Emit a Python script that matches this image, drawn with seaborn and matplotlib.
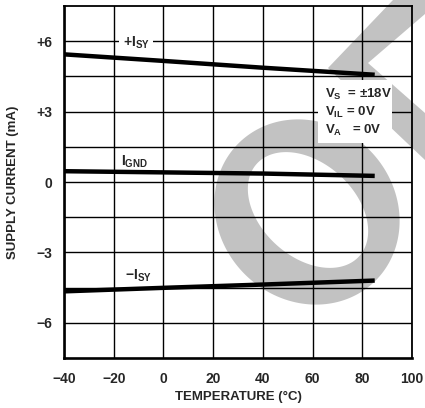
import numpy as np
import pandas as pd
import matplotlib
matplotlib.use('Agg')
import matplotlib.pyplot as plt
import seaborn as sns
from matplotlib.patches import PathPatch, Polygon, Rectangle
from matplotlib.path import Path
from matplotlib.transforms import IdentityTransform

# ---- data ----
temperature = [-40, 0, 40, 85]
i_sy_pos = [5.44, 5.16, 4.87, 4.57]
i_gnd = [0.46, 0.41, 0.36, 0.26]
i_sy_neg = [-4.66, -4.51, -4.37, -4.20]
series_names = ['+ISY', 'IGND', '-ISY']

x_ticks = [-40, -20, 0, 20, 40, 60, 80, 100]
x_ticklabels = ['\u221240', '\u221220', '0', '20', '40', '60', '80', '100']
y_ticks = [-6, -3, 0, 3, 6]
y_ticklabels = ['\u22126', '\u22123', '0', '+3', '+6']
y_minor = [-4.5, -1.5, 1.5, 4.5]

df = pd.DataFrame({
    'temperature': temperature * 3,
    'current': i_sy_pos + i_gnd + i_sy_neg,
    'series': [s for s in series_names for _ in temperature],
})

sns.set_theme(style='white')
plt.rcParams['font.family'] = ['Liberation Sans', 'DejaVu Sans']
plt.rcParams['mathtext.fontset'] = 'custom'
plt.rcParams['mathtext.rm'] = 'Liberation Sans:bold'
plt.rcParams['mathtext.bf'] = 'Liberation Sans:bold'
plt.rcParams['mathtext.it'] = 'Liberation Sans:bold'
plt.rcParams['mathtext.default'] = 'rm'

W, H = 425, 408
fig = plt.figure(figsize=(W / 100, H / 100), dpi=100)
fig.patch.set_facecolor('white')
ax = fig.add_axes([64 / W, 1 - 358 / H, (412 - 64) / W, (358 - 6) / H])
ax.set_facecolor('none')

# ---- watermark (decoration, display pixels) ----
wm = '#c2c2c2'
t = np.linspace(0, 2 * np.pi, 200)
def ell(cx, cy, a, b, ang):
    ang = np.deg2rad(ang)
    x = a * np.cos(t)
    y = b * np.sin(t)
    return np.column_stack([cx + x * np.cos(ang) - y * np.sin(ang),
                            cy + x * np.sin(ang) + y * np.cos(ang)])
outer = ell(307, H - 212, 97, 88, -45)
inner = ell(308, H - 210, 69, 47, -42)[::-1]
verts = np.concatenate([outer, inner])
codes = ([Path.MOVETO] + [Path.LINETO] * (len(outer) - 1)
         + [Path.MOVETO] + [Path.LINETO] * (len(inner) - 1))
ring = PathPatch(Path(verts, codes), facecolor=wm, edgecolor='none',
                 transform=IdentityTransform(), zorder=-1)
fig.add_artist(ring)
band = Polygon([(393, H), (W, H), (W, H - 160), (328, H - 68)], closed=True,
               facecolor=wm, edgecolor='none', transform=IdentityTransform(), zorder=-1)
fig.add_artist(band)
notch = Polygon([(368, H - 63), (W, H - 14), (W, H - 113)], closed=True,
                facecolor='white', edgecolor='none', transform=IdentityTransform(), zorder=-0.9)
fig.add_artist(notch)

# ---- data lines ----
sns.lineplot(data=df, x='temperature', y='current', hue='series',
             palette=['black'] * 3, legend=False, linewidth=3.2, ax=ax,
             solid_capstyle='butt', zorder=3)

ax.set_xlim(-40, 100)
ax.set_ylim(-7.5, 7.5)
ax.set_xticks(x_ticks)
ax.set_xticklabels(x_ticklabels)
ax.set_yticks(y_ticks)
ax.set_yticklabels(y_ticklabels)
ax.set_yticks(y_minor, minor=True)
ax.set_axisbelow(True)
ax.grid(True, which='both', color='black', linewidth=1.0)
ax.tick_params(which='both', length=0)
ax.tick_params(axis='y', pad=8.5, labelsize=10)
ax.tick_params(axis='x', pad=10, labelsize=10)
for lab in ax.get_xticklabels() + ax.get_yticklabels():
    lab.set_fontweight('bold')
for side in ['left', 'bottom']:
    ax.spines[side].set_linewidth(1.9)
for side in ['top', 'right']:
    ax.spines[side].set_linewidth(1.3)
for sp in ax.spines.values():
    sp.set_color('black')

ax.set_xlabel('TEMPERATURE (\u00b0C)', fontsize=9.5, fontweight='bold')
ax.set_ylabel('SUPPLY CURRENT (mA)', fontsize=9.5, fontweight='bold')
ax.xaxis.set_label_coords(0.5, (H - 397 - 50) / 352)
ax.xaxis.label.set_va('center')
ax.yaxis.set_label_coords((13 - 64) / 348, 0.5)
ax.yaxis.label.set_va('center')

# ---- series labels ----
ax.text(-11, 5.95, r'$+\mathrm{I}_{\mathbf{SY}}$', ha='center', va='center', fontsize=10,
        bbox=dict(facecolor='white', edgecolor='none', pad=2.5), zorder=4)
ax.text(-11.5, 0.85, r'$\mathrm{I}_{\mathbf{GND}}$', ha='center', va='center', fontsize=10, zorder=4)
ax.text(-10, -4.0, r'$-\mathrm{I}_{\mathbf{SY}}$', ha='center', va='center', fontsize=10, zorder=4)

# ---- conditions box ----
ax.add_patch(Rectangle((62.2, 1.65), 29.8, 2.7, facecolor='white', edgecolor='none', zorder=2.5))
ax.text(65, 3.72, r'$\mathrm{V}_{\mathbf{S}}$' + '  = \u00b118V', ha='left', va='center',
        fontsize=9.5, fontweight='bold', zorder=4)
ax.text(65, 2.95, r'$\mathrm{V}_{\mathbf{IL}}$' + ' = 0V', ha='left', va='center',
        fontsize=9.5, fontweight='bold', zorder=4)
ax.text(65, 2.2, r'$\mathrm{V}_{\mathbf{A}}$' + '   = 0V', ha='left', va='center',
        fontsize=9.5, fontweight='bold', zorder=4)

fig.savefig('out.png', dpi=100)
